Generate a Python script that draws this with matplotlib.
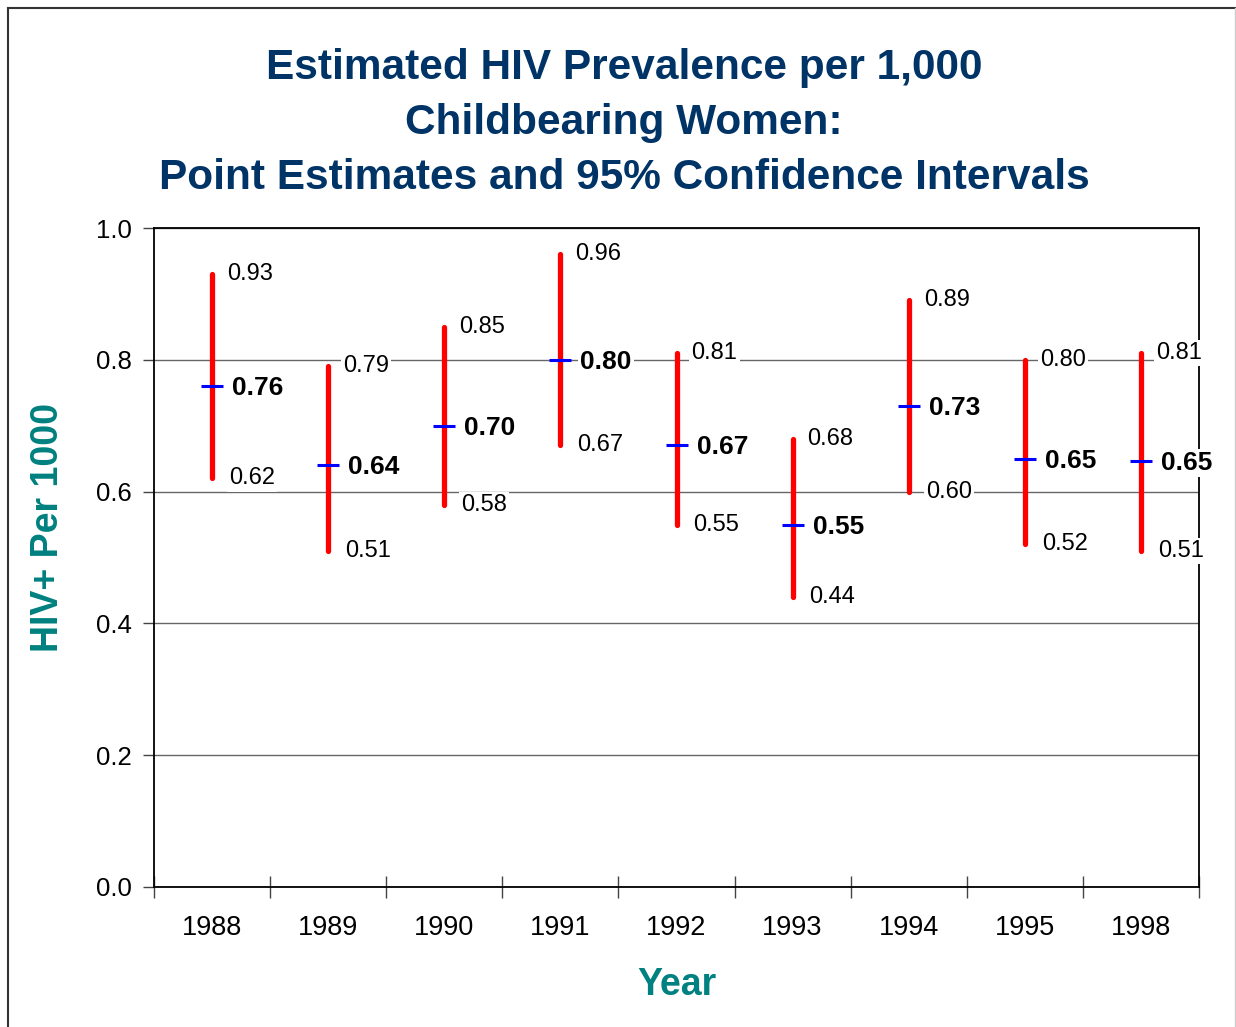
import matplotlib.pyplot as plt
from matplotlib.lines import Line2D

plt.rcParams['font.family'] = ['Liberation Sans', 'DejaVu Sans']

# données
years = ['1988', '1989', '1990', '1991', '1992', '1993', '1994', '1995', '1998']
estimate = [0.76, 0.64, 0.70, 0.80, 0.67, 0.55, 0.73, 0.65, 0.647]
lower = [0.62, 0.51, 0.58, 0.67, 0.55, 0.44, 0.60, 0.52, 0.51]
upper = [0.93, 0.79, 0.85, 0.96, 0.81, 0.68, 0.89, 0.80, 0.81]

W, H = 1236, 1027
fig = plt.figure(figsize=(W / 100, H / 100), dpi=100)
ax = fig.add_axes([154 / W, 1 - 887 / H, (1199 - 154) / W, (887 - 228) / H])

# cadre autour de la figure (haut et gauche foncés, droite gris clair)
fig.lines.append(Line2D([8 / W, 1], [1 - 8 / H, 1 - 8 / H], transform=fig.transFigure,
                        color='#333333', linewidth=1.5))
fig.lines.append(Line2D([8 / W, 8 / W], [0, 1 - 8 / H], transform=fig.transFigure,
                        color='#333333', linewidth=1.5))
fig.lines.append(Line2D([1234.5 / W, 1234.5 / W], [0, 1 - 8 / H], transform=fig.transFigure,
                        color='#cccccc', linewidth=1))

x = list(range(len(years)))
ax.vlines(x, lower, upper, color='#ff0000', linewidth=3.8, capstyle='round', zorder=3)
ax.plot(x, estimate, linestyle='none', marker='_', markersize=16,
        markeredgewidth=2.2, color='#0000ff', zorder=4)

box = dict(facecolor='white', edgecolor='none', pad=1.5)
for i in x:
    ax.annotate(f'{upper[i]:.2f}', (i, upper[i]), xytext=(15, 0), textcoords='offset pixels',
                ha='left', va='center', fontsize=17, bbox=box, zorder=5)
    ax.annotate(f'{lower[i]:.2f}', (i, lower[i]), xytext=(17, 0), textcoords='offset pixels',
                ha='left', va='center', fontsize=17, bbox=box, zorder=5)
    ax.annotate(f'{estimate[i]:.2f}', (i, estimate[i]), xytext=(20, -2), textcoords='offset pixels',
                ha='left', va='center', fontsize=19, fontweight='bold', bbox=box, zorder=5)

ax.set_xlim(-0.5, len(years) - 0.5)
ax.set_ylim(0, 1.0)
ax.set_yticks([0, 0.2, 0.4, 0.6, 0.8, 1.0])
ax.set_yticklabels(['0.0', '0.2', '0.4', '0.6', '0.8', '1.0'])
ax.yaxis.grid(True, color='#666666', linewidth=1)
ax.set_axisbelow(True)

ax.set_xticks([i - 0.5 for i in range(len(years) + 1)])
ax.set_xticklabels([])
ax.set_xticks(x, minor=True)
ax.set_xticklabels(years, minor=True)
ax.tick_params(axis='x', which='major', direction='inout', length=16, width=1, color='#444444')
ax.tick_params(axis='x', which='minor', length=0, labelsize=19.5, pad=20)
ax.tick_params(axis='y', direction='out', length=8, width=1, color='#444444', labelsize=18.5, pad=8)

for s in ax.spines.values():
    s.set_linewidth(1.3)
    s.set_color('black')

ax.set_xlabel('Year', fontsize=27, fontweight='bold', color='#008080', labelpad=19)
fig.text(48 / W, 1 - 528 / H, 'HIV+ Per 1000', rotation=90, ha='center', va='center',
         fontsize=27, fontweight='bold', color='#008080')

fig.text(0.505, 1 - 123 / H,
         'Estimated HIV Prevalence per 1,000\nChildbearing Women:\nPoint Estimates and 95% Confidence Intervals',
         ha='center', va='center', fontsize=30.5, fontweight='bold', color='#003366', linespacing=1.47)

fig.savefig('out.png', dpi=100)
